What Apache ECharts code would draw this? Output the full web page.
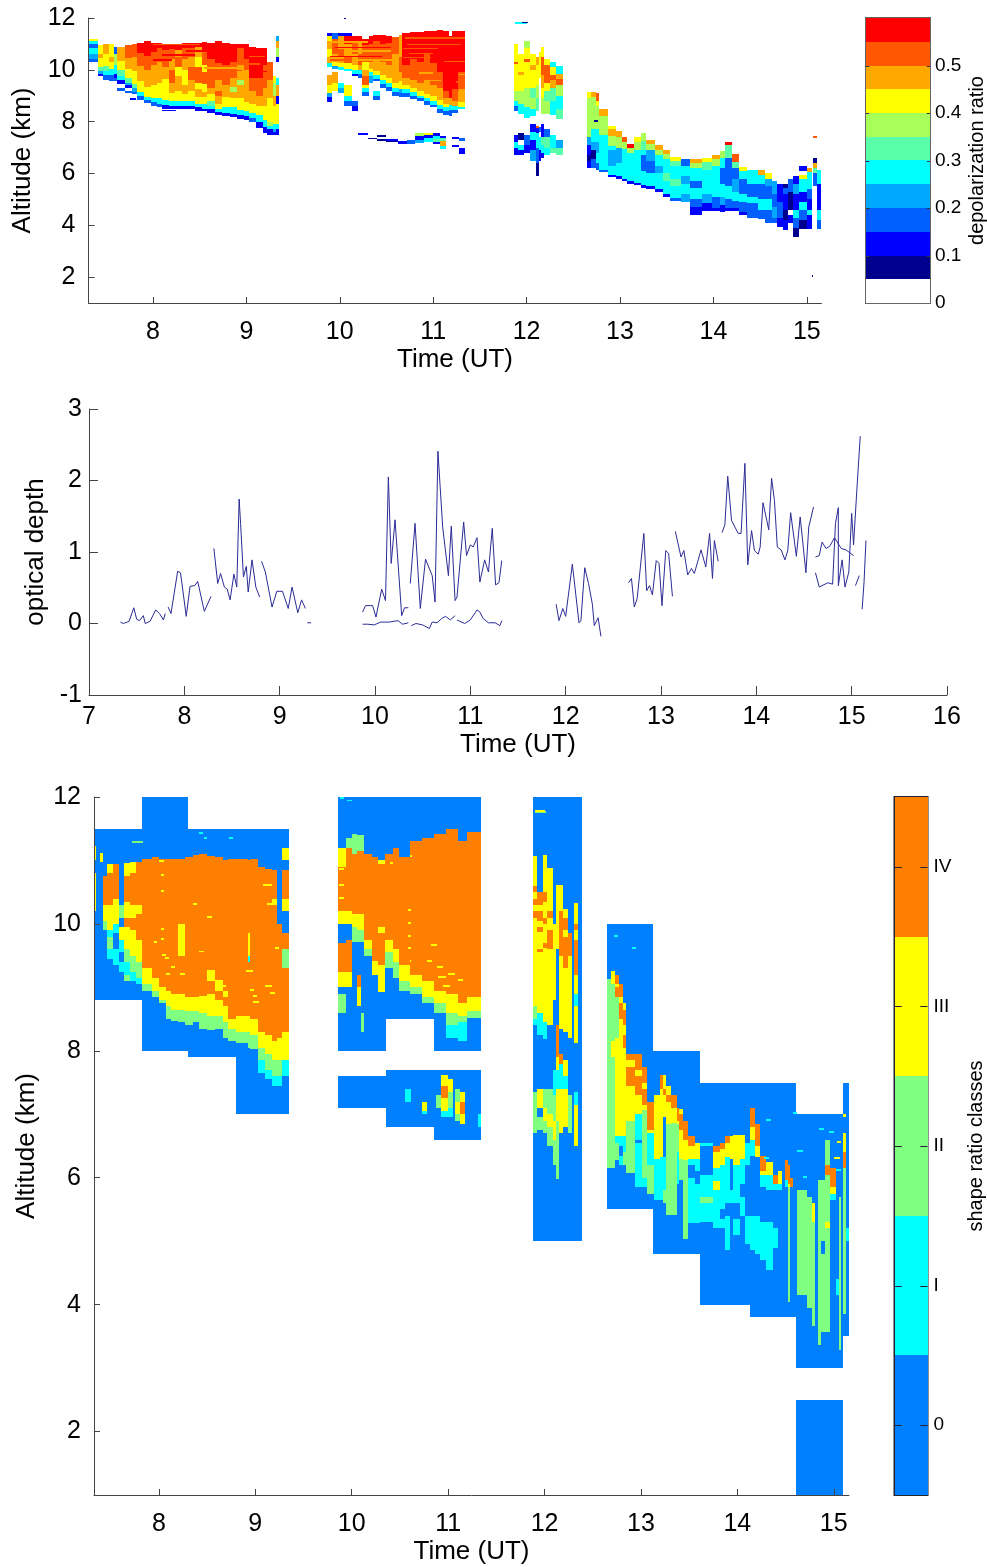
<!DOCTYPE html>
<html>
<head>
<meta charset="utf-8">
<script src="https://cdn.jsdelivr.net/npm/echarts@6/dist/echarts.min.js"></script>
<style>
html,body{margin:0;padding:0;background:#fff}
#main{width:987px;height:1567px}
</style>
</head>
<body>
<div id="main"></div>
<script>
// time ticks
var hourTicks = [8, 9, 10, 11, 12, 13, 14, 15];
var altTicks = [2, 4, 6, 8, 10, 12];

// colour classes of the two colour bars
var depolColors = ['#ffffff', '#00008f', '#0000ff', '#0060ff', '#00a8ff', '#00ffff', '#58ffa8', '#a8ff58', '#ffff00', '#ffa800', '#ff5800', '#ff0000'];
var depolTicks = [0, 0.1, 0.2, 0.3, 0.4, 0.5];
var shapeColors = ['#0080ff', '#00ffff', '#80ff80', '#ffff00', '#ff8000'];
var shapeNames = ['0', 'I', 'II', 'III', 'IV'];
var shapeTicks = [0.5, 1.5, 2.5, 3.5, 4.5];

// profile rows: [start time, top altitude, class, altitude down to, class, altitude down to, ...]
// a row lasts until the next row starts
var depolSeg1 = [
  [7.31, 11.2, 8,11.1, 5,11.0, 3,10.85, 5,10.6, 4,10.4, 3,10.3],
  [7.41, 10.95, 8,10.6, 9,10.45, 8,10.1, 6,9.95, 4,9.85, 2,9.75],
  [7.47, 11.0, 9,10.6, 8,10.15, 6,9.95, 5,9.8, 3,9.6],
  [7.53, 11.0, 8,10.5, 9,10.3, 8,10.05, 5,9.8, 3,9.55],
  [7.58, 10.9, 3,10.6, 7,10.2, 5,9.85, 2,9.7, 3,9.55],
  [7.62, 10.9, 9,10.35, 8,10.0, 6,9.75, 5,9.6, 2,9.45, 0,9.3, 3,9.2],
  [7.7, 10.95, 10,10.45, 9,10.05, 8,9.7, 6,9.5, 4,9.4, 2,9.3, 0,9.2, 3,9.1],
  [7.78, 11.0, 10,10.5, 9,9.95, 8,9.45, 6,9.3, 4,9.15, 3,9.05],
  [7.83, 11.05, 11,10.65, 10,10.15, 9,9.55, 8,9.15, 5,9.0, 3,8.85],
  [7.9, 11.1, 11,10.55, 10,10.0, 9,9.35, 8,8.95, 5,8.85, 3,8.72],
  [7.98, 11.05, 11,10.7, 10,10.2, 9,9.4, 8,8.9, 5,8.75, 3,8.6],
  [8.04, 11.05, 11,10.85, 10,10.3, 9,9.5, 8,8.9, 5,8.7, 3,8.55],
  [8.1, 11.0, 11,10.75, 10,10.1, 9,9.65, 8,8.85, 5,8.65, 2,8.5],
  [8.17, 11.0, 11,10.8, 10,10.4, 9,10.0, 10,9.5, 9,9.1, 8,8.8, 5,8.6, 2,8.48],
  [8.24, 11.0, 11,10.75, 9,10.5, 10,10.1, 8,9.75, 9,9.2, 8,8.8, 5,8.6, 2,8.47],
  [8.31, 11.02, 11,10.85, 10,10.4, 9,10.0, 8,9.4, 9,9.05, 8,8.78, 5,8.6, 2,8.5],
  [8.38, 11.05, 11,10.85, 10,10.5, 9,10.1, 10,9.6, 9,9.2, 8,8.8, 5,8.62, 2,8.48],
  [8.45, 11.05, 11,10.9, 9,10.5, 8,10.1, 10,9.5, 8,9.25, 9,8.95, 8,8.7, 5,8.55, 2,8.42],
  [8.52, 11.08, 11,10.7, 10,10.2, 8,9.9, 10,9.45, 8,9.15, 9,8.95, 8,8.68, 5,8.5, 2,8.4],
  [8.58, 11.05, 11,10.4, 10,9.9, 10,9.3, 9,9.05, 8,8.8, 6,8.6, 5,8.5, 2,8.35],
  [8.66, 11.1, 11,10.25, 10,9.6, 9,9.2, 10,9.0, 9,8.7, 8,8.5, 5,8.38, 2,8.25],
  [8.74, 11.05, 11,10.2, 10,9.4, 9,8.95, 8,8.55, 5,8.35, 2,8.2],
  [8.82, 11.0, 11,10.3, 10,9.7, 9,9.35, 7,9.15, 9,8.9, 8,8.55, 5,8.3, 2,8.18],
  [8.9, 11.0, 11,10.85, 10,10.2, 9,9.6, 7,9.4, 9,8.9, 8,8.45, 5,8.27, 2,8.12],
  [8.97, 11.0, 11,10.4, 10,10.0, 9,9.4, 9,8.75, 8,8.4, 5,8.2, 2,8.05],
  [9.03, 10.9, 11,9.7, 10,9.2, 9,8.7, 8,8.35, 5,8.15, 3,8.0],
  [9.1, 10.85, 11,9.7, 10,9.0, 9,8.6, 8,8.25, 5,8.0, 2,7.75],
  [9.18, 10.85, 11,10.2, 10,9.3, 9,8.6, 8,8.05, 5,7.8, 2,7.55],
  [9.22, 10.3, 10,9.6, 9,8.9, 8,8.0, 7,7.85, 5,7.7, 2,7.5],
  [9.28, 9.75, 8,9.5, 7,9.0, 9,8.6, 8,7.9, 5,7.7, 4,7.6, 2,7.47],
  [9.32, 11.3, 4,11.1, 9,10.85, 7,10.5, 2,10.3, 0,9.7, 5,9.4, 9,9.0, 2,8.7, 8,7.9, 5,7.7, 2,7.47],
  [9.35]
];
var depolSeg2 = [
  [9.86, 11.42, 2,11.3, 8,11.1, 9,10.8, 8,10.5, 9,10.25, 5,10.1, 0,9.8, 9,9.4, 8,9.1, 4,8.95, 2,8.75],
  [9.92, 11.42, 3,11.2, 10,10.6, 9,10.3, 8,10.15, 4,10.05, 0,9.9, 9,9.5, 8,9.2, 0,8.9],
  [9.98, 11.42, 2,11.32, 9,10.8, 10,10.5, 9,10.25, 8,10.1, 5,10.0, 0,9.5, 5,9.3, 4,9.1],
  [10.05, 11.42, 2,11.32, 11,11.0, 9,10.5, 10,10.25, 8,10.05, 5,9.95, 0,9.4, 8,9.0, 5,8.8, 3,8.6],
  [10.13, 11.3, 11,11.1, 10,10.6, 9,10.2, 8,10.0, 5,9.85, 2,9.75, 0,8.8, 3,8.6, 2,8.4],
  [10.2, 11.3, 11,11.05, 9,10.6, 10,10.2, 9,10.0, 5,9.85, 3,9.7],
  [10.24, 11.2, 11,10.95, 10,10.3, 8,10.0, 9,9.75, 10,9.4, 8,9.3, 5,9.15, 3,9.0],
  [10.31, 11.3, 11,11.0, 10,10.3, 9,10.05, 8,9.9, 5,9.75, 4,9.5, 0,9.3],
  [10.36, 11.35, 11,11.1, 10,10.4, 9,9.95, 8,9.8, 5,9.65, 3,9.55, 0,9.2, 5,9.0, 3,8.85],
  [10.43, 11.35, 11,11.0, 10,10.3, 9,9.8, 8,9.6, 5,9.45, 3,9.3],
  [10.5, 11.3, 11,11.05, 10,10.2, 9,9.7, 8,9.5, 5,9.35, 3,9.2],
  [10.56, 11.25, 10,10.6, 9,10.0, 9,9.5, 8,9.3, 5,9.15, 3,9.0],
  [10.63, 11.35, 9,10.5, 10,9.9, 9,9.55, 8,9.25, 4,9.1, 3,8.95],
  [10.67, 11.42, 11,10.2, 10,9.7, 9,9.4, 8,9.25, 5,9.1, 3,8.95],
  [10.75, 11.45, 11,10.4, 10,9.6, 9,9.3, 8,9.15, 5,8.98, 3,8.88],
  [10.83, 11.45, 11,10.3, 10,9.5, 9,9.2, 8,9.0, 5,8.9, 3,8.8],
  [10.9, 11.48, 11,10.6, 10,9.6, 9,9.05, 8,8.9, 5,8.78, 3,8.65],
  [10.97, 11.5, 11,10.25, 10,9.4, 9,9.0, 8,8.8, 5,8.65, 3,8.55],
  [11.04, 11.52, 11,9.9, 10,9.3, 9,8.85, 8,8.65, 5,8.5, 3,8.35],
  [11.1, 11.5, 11,9.2, 10,8.9, 9,8.7, 8,8.55, 5,8.4, 3,8.25],
  [11.17, 11.3, 11,8.9, 9,8.65, 5,8.45, 3,8.2],
  [11.2, 11.48, 11,9.25, 10,8.8, 9,8.6, 5,8.45, 3,8.35],
  [11.27, 11.48, 11,9.9, 10,9.2, 9,8.75, 8,8.55, 5,8.47],
  [11.34]
];
var depolSeg2Low = [
  [10.2, 7.55, 2,7.5],
  [10.3, 7.38, 1,7.32],
  [10.4, 7.5, 1,7.42, 0,7.32, 1,7.26],
  [10.5, 7.33, 2,7.25, 1,7.2],
  [10.62, 7.24, 2,7.14],
  [10.72, 7.28, 3,7.14],
  [10.8, 7.55, 7,7.45, 2,7.28, 4,7.18],
  [10.9, 7.55, 8,7.48, 2,7.35, 5,7.22],
  [11.0, 7.55, 2,7.45, 5,7.32, 6,7.2, 2,7.12],
  [11.07, 7.45, 2,7.38, 6,7.25, 9,7.05, 5,6.95],
  [11.14],
  [11.2, 7.4, 2,7.33, 0,7.1, 2,7.03],
  [11.28, 7.35, 3,7.25, 0,7.0, 2,6.75],
  [11.34]
];
var depolSeg3 = [
  [11.87, 11.0, 8,10.3, 10,10.24, 8,9.2, 7,8.8, 5,8.6, 3,8.42, 0,7.5, 2,7.2, 5,7.0, 2,6.7],
  [11.91, 10.6, 8,9.9, 9,9.8, 8,9.2, 7,8.7, 5,8.3, 0,7.55, 1,7.3, 0,7.1, 5,6.9, 2,6.7],
  [11.97, 11.12, 7,10.85, 8,10.4, 10,10.32, 8,9.3, 7,8.55, 5,8.15, 0,7.5, 3,7.1, 2,6.8],
  [12.04, 10.6, 8,10.2, 9,10.0, 8,9.3, 6,8.9, 7,8.5, 5,8.2, 0,7.9, 2,7.6, 5,7.3, 2,6.9, 4,6.5],
  [12.1, 10.5, 9,10.2, 8,9.4, 7,8.9, 6,8.4, 0,7.85, 10,7.75, 2,7.55, 5,7.0, 3,6.4, 1,5.9],
  [12.13, 10.7, 8,9.7, 0,8.35, 0,7.8, 3,7.6, 0,7.4, 5,6.9, 2,6.5],
  [12.15, 10.9, 8,10.5, 10,9.8, 9,9.3, 8,8.9, 7,8.3, 0,7.9, 2,7.4, 6,7.1, 5,6.8, 2,6.6],
  [12.19, 10.4, 8,10.2, 10,9.5, 8,9.2, 6,8.8, 7,8.3, 0,7.7, 3,7.4, 6,7.0, 5,6.7],
  [12.25, 10.3, 5,10.1, 8,9.8, 10,9.6, 9,9.3, 6,8.8, 5,8.25, 0,7.5, 5,7.0, 6,6.8],
  [12.32, 10.15, 5,9.85, 9,9.65, 10,9.4, 7,9.0, 5,8.5, 6,8.1, 0,7.3, 4,7.0, 6,6.7],
  [12.39]
];
var depolSeg4 = [
  [12.65, 9.16, 8,8.9, 7,7.4, 4,7.1, 2,6.7, 1,6.5, 2,6.2],
  [12.69, 9.16, 9,8.95, 7,7.7, 5,7.2, 4,6.9, 1,6.55, 3,6.2],
  [12.74, 9.1, 10,8.8, 8,8.6, 7,7.7, 5,7.2, 4,6.8, 5,6.4, 3,6.12],
  [12.78, 8.5, 9,8.2, 7,7.5, 5,7.1, 5,6.15, 3,6.05],
  [12.87, 7.85, 8,7.7, 9,7.45, 7,7.05, 5,6.9, 4,6.3, 5,5.95, 2,5.85],
  [12.96, 7.65, 9,7.4, 7,7.0, 4,6.4, 5,5.9, 2,5.8],
  [13.02, 7.4, 10,7.2, 7,6.95, 5,6.4, 5,5.8, 2,5.7],
  [13.08, 7.15, 11,7.0, 7,6.8, 5,6.4, 5,5.7, 2,5.6],
  [13.15, 7.4, 8,7.2, 7,6.9, 5,6.5, 5,5.65, 2,5.55],
  [13.22, 7.55, 7,7.25, 6,6.9, 5,6.7, 3,6.1, 5,5.55, 2,5.45],
  [13.28, 7.3, 9,7.15, 7,6.9, 4,6.5, 3,6.0, 5,5.5, 2,5.4],
  [13.37, 7.1, 9,6.9, 7,6.7, 5,6.3, 4,6.0, 5,5.4, 2,5.3],
  [13.46, 6.9, 9,6.75, 7,6.55, 5,6.0, 6,5.7, 5,5.2, 2,5.1],
  [13.54, 6.65, 8,6.5, 6,6.3, 5,5.8, 6,5.5, 5,5.05, 3,4.95],
  [13.65, 6.55, 3,6.3, 5,5.9, 4,5.6, 5,5.2, 4,4.9],
  [13.75, 6.55, 9,6.4, 7,6.2, 5,5.7, 3,5.45, 5,5.0, 3,4.7, 2,4.4],
  [13.88, 6.6, 8,6.45, 6,6.15, 5,5.6, 5,5.2, 4,4.85, 2,4.55],
  [13.98, 6.7, 9,6.55, 7,6.3, 5,5.9, 5,5.1, 3,4.65, 2,4.55],
  [14.07, 6.85, 7,6.6, 5,6.2, 3,5.6, 5,5.1, 4,4.8, 2,4.5],
  [14.12, 7.2, 11,7.1, 6,6.6, 3,5.5, 5,5.0, 3,4.65, 2,4.55],
  [14.2, 6.75, 10,6.45, 6,6.2, 3,5.8, 4,5.3, 5,4.95, 3,4.65, 2,4.55],
  [14.27, 6.25, 8,6.1, 5,5.8, 3,5.2, 5,4.9, 3,4.5, 2,4.4],
  [14.36, 6.15, 5,5.6, 3,5.1, 5,4.85, 3,4.3],
  [14.48, 6.15, 9,5.95, 5,5.6, 3,5.0, 5,4.6, 3,4.25],
  [14.55, 6.0, 8,5.8, 4,5.5, 3,5.0, 5,4.6, 3,4.1],
  [14.63, 5.7, 4,5.2, 3,4.7, 4,4.3, 3,4.1],
  [14.68, 5.6, 2,4.9, 3,4.3, 2,3.95],
  [14.74, 5.6, 1,5.45, 3,5.2, 2,4.6, 1,4.2, 2,3.8],
  [14.8, 5.8, 3,5.3, 1,4.6, 0,4.4, 2,4.1],
  [14.85, 5.9, 2,5.6, 4,5.2, 2,4.6, 5,4.3, 3,3.9, 1,3.55],
  [14.92, 6.3, 2,6.1, 0,5.95, 8,5.8, 5,5.3, 2,4.9, 5,4.6, 3,4.2, 1,3.85],
  [15.0, 6.2, 9,6.05, 5,5.4, 3,5.0, 2,4.6, 5,4.4, 2,3.85],
  [15.05, 2.1, 1,2.0],
  [15.07, 7.45, 10,7.35, 0,6.6, 1,6.4, 9,6.2, 6,6.0, 3,5.5, 0,4.0],
  [15.11, 6.15, 5,5.6, 2,4.6, 5,4.2, 3,3.85],
  [15.15]
];
// short horizontal streaks: [from, to, altitude, class]
var depolStreaks = [
  [10.7,11.34,11.2,10],[10.72,11.3,10.95,10],[10.68,11.05,10.8,10],[10.74,11.0,10.6,10],[10.68,10.98,10.45,10],
  [11.12,11.34,10.3,10],[10.75,10.95,10.2,10],[10.8,11.0,10.0,10],[11.28,11.34,9.8,9],[10.85,11.0,9.85,9],
  [10.9,11.08,9.55,9],[11.24,11.34,9.5,10],[10.95,11.1,9.25,9],[11.28,11.34,9.2,9],
  [9.9,10.3,11.05,9],[9.95,10.55,10.85,11],[10.1,10.55,10.7,9],[9.9,10.45,10.5,11],[10.2,10.6,10.35,9],[9.9,10.05,10.35,10],
  [8.0,8.5,10.95,10],[8.35,8.7,10.7,11],[8.1,8.45,10.55,11],[8.55,8.9,10.05,9],[8.0,8.2,10.35,11],[8.7,8.95,9.95,10],
  [9.03,9.2,10.5,10],[9.0,9.15,10.2,10],[9.1,9.22,9.9,11],
  [8.1,8.25,8.4,2],[7.75,7.82,8.85,2],[10.05,10.07,11.95,1],[11.88,12.0,11.78,5],[11.95,12.02,11.8,1],[12.72,12.76,8.0,1]
];

// blocks of the shape ratio panel: [from, to, top, bottom]
var shapeBlocks = [
  [7.315, 7.82, 11.5, 8.8], [7.82, 8.3, 12, 8], [8.3, 8.8, 11.5, 7.9], [8.8, 9.35, 11.5, 7],
  [9.86, 10.36, 12, 8], [10.36, 10.85, 12, 8.5], [10.85, 11.34, 12, 8],
  [9.86, 10.36, 7.6, 7.1], [10.36, 10.85, 7.7, 6.8], [10.85, 11.34, 7.7, 6.6],
  [11.884, 12.39, 12, 5],
  [12.65, 13.13, 10, 5.5], [13.13, 13.61, 8, 4.8], [13.61, 14.13, 7.5, 4], [14.13, 14.61, 7.5, 3.8],
  [14.61, 15.1, 7, 3], [15.1, 15.16, 7.5, 3.5], [14.61, 15.1, 2.5, 1]
];
var shapeSeg1 = [
  [7.315, 11.22, 3,11.0, 0,10.8, 3,10.2],
  [7.35],
  [7.385, 11.12, 3,10.98],
  [7.42, 10.75, 4,10.3, 3,10.05, 2,9.9],
  [7.46, 10.94, 3,10.8, 4,10.3, 3,9.9, 1,9.8, 2,9.6, 1,9.45],
  [7.52, 10.94, 4,10.4, 3,10.0, 1,9.85, 0,9.6, 1,9.35],
  [7.585, 10.6, 0,10.3, 2,10.1, 0,9.95, 3,9.75, 1,9.55, 0,9.4, 1,9.25],
  [7.635, 10.96, 3,10.75, 4,10.35, 3,10.1, 4,9.95, 3,9.6, 2,9.4, 1,9.2, 2,9.1],
  [7.7, 10.97, 3,10.8, 4,10.3, 3,10.1, 4,9.9, 3,9.5, 2,9.25, 1,9.1],
  [7.76, 10.98, 4,10.3, 3,10.15, 4,9.75, 3,9.4, 2,9.15, 1,9.05],
  [7.83, 11.03, 4,9.3, 3,9.05, 2,8.95],
  [7.93, 11.05, 4,9.15, 3,8.95, 2,8.85],
  [8.0, 11.02, 4,9.0, 3,8.8, 2,8.75],
  [8.07, 11.02, 4,8.95, 3,8.7, 2,8.5],
  [8.13, 11.03, 4,8.9, 3,8.65, 2,8.47],
  [8.2, 11.03, 4,10.0, 3,9.5, 4,8.9, 3,8.65, 2,8.45],
  [8.27, 11.05, 4,8.85, 3,8.63, 2,8.4],
  [8.35, 11.08, 4,8.85, 3,8.62, 2,8.45],
  [8.42, 11.1, 4,8.87, 3,8.6, 2,8.35],
  [8.5, 11.07, 4,9.28, 3,9.1, 4,8.9, 3,8.55, 2,8.33],
  [8.58, 11.05, 4,9.12, 3,8.95, 4,8.8, 3,8.55, 2,8.35],
  [8.66, 11.0, 4,8.95, 3,8.85, 4,8.7, 3,8.45, 2,8.2],
  [8.72, 11.02, 4,8.5, 3,8.35, 2,8.15],
  [8.8, 11.03, 4,8.55, 3,8.3, 2,8.12],
  [8.92, 11.0, 4,9.85, 3,9.5, 1,9.4, 4,8.55, 3,8.3, 2,8.05],
  [8.95, 11.02, 4,8.5, 3,8.25, 2,8.03],
  [9.03, 10.9, 4,8.3, 3,8.05, 2,7.85, 1,7.65],
  [9.1, 10.86, 4,8.25, 3,7.95, 2,7.7, 1,7.55],
  [9.17, 10.85, 4,10.4, 3,10.3, 4,8.15, 3,7.85, 2,7.6, 1,7.45],
  [9.22, 10.7, 0,10.0, 4,8.2, 3,7.85, 2,7.6, 1,7.45],
  [9.28, 11.2, 3,11.0, 0,10.85, 4,10.4, 3,10.2, 0,9.85, 4,9.6, 2,9.3, 4,8.3, 3,7.85, 1,7.6],
  [9.35]
];
var shapeSeg2 = [
  [9.86, 11.2, 3,10.9, 4,10.2, 3,10.0, 0,9.7, 4,9.25, 3,9.0, 0,8.9, 2,8.6],
  [9.94, 11.35, 2,11.2, 4,10.2, 3,10.0, 0,9.75, 4,9.25, 3,9.0],
  [10.0, 11.42, 2,11.1, 4,10.15, 3,9.95, 2,9.72],
  [10.06, 11.4, 2,11.15, 4,10.15, 3,9.9, 2,9.72, 0,9.2, 4,9.0, 3,8.7],
  [10.1, 11.4, 2,11.15, 4,10.15, 3,9.9, 2,9.72, 0,8.6, 2,8.3],
  [10.13, 11.1, 4,9.75, 3,9.6, 2,9.5],
  [10.21, 11.05, 4,9.42, 3,9.2],
  [10.27, 11.0, 3,10.95, 4,9.95, 3,9.85, 4,9.35, 3,8.92],
  [10.35, 11.1, 4,9.75, 3,9.55, 2,9.3],
  [10.43, 11.2, 4,9.6, 3,9.4, 2,9.15],
  [10.49, 11.05, 4,9.35, 3,9.1, 2,8.95],
  [10.6, 11.3, 4,9.2, 3,9.0, 2,8.9],
  [10.73, 11.35, 4,9.1, 3,8.85, 2,8.75],
  [10.85, 11.42, 4,8.95, 3,8.75, 2,8.6],
  [10.98, 11.5, 4,8.9, 3,8.6, 2,8.4, 1,8.2],
  [11.1, 11.3, 4,8.75, 3,8.55, 2,8.45, 1,8.15],
  [11.2, 11.45, 4,8.85, 3,8.62, 2,8.52],
  [11.34]
];
var shapeSeg2Low = [
  [10.55, 7.4, 1,7.2],
  [10.62],
  [10.73, 7.2, 3,7.05, 1,7.0],
  [10.78],
  [10.87, 7.3, 2,7.1],
  [10.93, 7.62, 3,7.45, 4,7.25, 3,7.05, 1,6.95],
  [11.0, 7.55, 3,7.35, 2,7.1, 1,6.95],
  [11.05],
  [11.07, 7.4, 2,7.2, 3,7.0, 2,6.9],
  [11.12, 7.35, 3,7.2, 4,7.0, 3,6.85],
  [11.18],
  [11.31, 7.0, 1,6.8],
  [11.34]
];
var shapeSeg3 = [
  [11.885, 11.07, 3,10.6, 4,10.5, 3,10.4, 4,10.3, 3,10.2, 4,10.1, 3,8.7, 2,8.5, 1,8.4, 0,7.35, 2,6.7],
  [11.92, 10.5, 4,10.3, 3,10.2, 4,10.05, 3,9.95, 4,9.88, 3,9.6, 4,9.55, 3,8.6, 1,8.25, 0,7.4, 3,7.1, 0,6.95, 2,6.75],
  [11.985, 11.08, 3,10.5, 4,10.35, 3,10.1, 4,10.0, 3,9.7, 4,9.62, 3,8.45, 1,8.18, 0,7.4, 2,7.1, 3,6.9, 2,6.7],
  [12.03, 10.88, 3,10.2, 4,10.1, 3,9.9, 4,9.6, 3,8.4, 0,7.4, 2,7.0, 3,6.8, 2,6.5],
  [12.09, 10.0, 3,8.8, 0,7.7, 1,7.3, 2,6.9, 3,6.6, 2,6.2],
  [12.12, 10.62, 3,9.6, 0,8.4, 4,7.9, 3,7.7, 1,7.4, 3,6.9, 2,6.5, 2,5.98],
  [12.155, 10.62, 3,10.2, 4,9.5, 3,8.35, 0,7.95, 4,7.8, 1,7.4, 3,6.7, 0,6.4],
  [12.19, 10.23, 3,10.1, 4,9.9, 3,9.8, 4,9.3, 3,8.3, 0,7.85, 3,7.6, 1,7.4, 3,6.8, 0,6.5],
  [12.24, 9.86, 4,9.5, 3,8.2, 0,7.3, 2,6.7],
  [12.28],
  [12.31, 10.33, 3,10.0, 4,9.9, 3,9.75, 4,9.2, 3,8.9, 1,8.7, 3,8.13, 0,7.35, 1,7.15, 3,6.5],
  [12.35]
];
var shapeSeg4 = [
  [12.65, 9.13, 2,6.15],
  [12.69, 9.26, 3,9.05, 2,8.15, 3,7.9, 2,6.15],
  [12.73, 9.2, 4,9.05, 3,9.0, 4,8.85, 2,8.2, 3,6.65, 1,6.55, 2,6.28],
  [12.77, 9.05, 4,8.85, 3,8.75, 4,8.5, 3,6.65, 1,6.5, 0,6.35, 1,6.2],
  [12.81, 8.75, 3,8.65, 4,8.4, 3,8.25, 4,8.05, 3,6.65, 1,6.4, 2,6.2],
  [12.85, 7.95, 4,7.85, 3,7.75, 4,7.45, 3,6.9, 2,6.07],
  [12.94, 7.95, 4,7.7, 3,7.6, 4,7.3, 3,7.0, 1,6.6, 0,6.55, 1,5.86],
  [13.01, 7.75, 4,7.5, 3,7.4, 4,7.15, 3,7.07, 2,6.0, 1,5.86],
  [13.06, 7.2, 4,6.76, 3,6.7, 1,6.2, 2,5.75],
  [13.14, 7.3, 3,6.3, 1,5.65],
  [13.2, 7.62, 4,7.4, 3,6.33, 1,5.65],
  [13.225, 7.62, 3,7.4, 4,7.3, 3,6.95, 0,6.33, 1,5.8, 2,5.6],
  [13.26, 7.45, 3,7.3, 4,7.2, 3,6.85, 2,5.41],
  [13.31, 7.3, 4,7.1, 3,6.86, 2,5.41],
  [13.37, 7.1, 4,6.9, 3,6.85, 2,6.4, 1,5.9, 0,5.4],
  [13.39, 7.08, 3,7.0, 4,6.75, 3,6.3, 2,5.96, 0,5.3],
  [13.44, 6.9, 4,6.6, 3,6.28, 2,5.04],
  [13.49, 6.65, 4,6.5, 3,6.3, 1,6.2, 0,6.0, 1,5.28],
  [13.56, 6.55, 3,6.3, 1,6.1, 0,5.9, 1,5.28],
  [13.61, 6.55, 1,6.5, 0,6.04, 1,5.7, 2,5.6, 1,5.3],
  [13.75, 6.5, 4,6.4, 3,6.15, 1,5.95, 3,5.8, 1,5.2],
  [13.82, 6.55, 4,6.45, 3,6.2, 1,5.5, 0,5.35, 1,5.2],
  [13.87, 6.65, 4,6.55, 3,6.33, 1,5.6, 0,5.4, 1,4.86],
  [13.92, 6.65, 3,6.3, 0,5.8, 1,5.6, 0,5.3],
  [13.96, 6.67, 3,6.2, 1,5.6, 0,5.35, 1,5.1],
  [14.03, 6.67, 3,6.3, 1,5.9, 0,5.7, 1,5.4],
  [14.08, 6.55, 1,6.2, 0,5.4, 1,4.96],
  [14.13, 7.1, 4,6.8, 3,6.6, 1,6.35, 0,5.4, 1,4.86],
  [14.18, 6.85, 4,6.5, 3,6.33, 0,5.4, 1,4.8],
  [14.235, 6.35, 4,6.1, 3,6.05, 1,5.86, 0,5.3, 1,4.7],
  [14.3, 6.25, 3,6.05, 1,5.8, 0,5.3, 1,4.54],
  [14.37, 6.05, 4,5.9, 1,5.8, 0,5.2, 1,4.9],
  [14.42, 6.1, 3,5.9, 1,5.8],
  [14.46],
  [14.495, 6.28, 4,5.96, 1,5.86],
  [14.53, 6.2, 4,5.9, 3,5.85, 2,4.04],
  [14.55, 6.0, 4,5.85],
  [14.58],
  [14.62, 5.8, 2,4.15],
  [14.72, 5.7, 2,3.95],
  [14.77, 5.6, 3,5.3, 2,3.67],
  [14.81],
  [14.84, 5.96, 2,3.36],
  [14.87, 5.96, 2,5.0, 0,4.8, 2,3.57],
  [14.91, 6.6, 2,6.2, 4,6.05, 2,5.3, 3,5.2, 2,3.57],
  [14.96, 6.15, 4,5.85, 3,5.75, 1,5.65],
  [15.02, 4.4, 1,4.15],
  [15.05, 5.7, 2,3.28],
  [15.07],
  [15.1, 7.0, 3,6.95, 0,6.7, 3,6.4, 4,6.15, 2,3.86],
  [15.13, 6.2, 0,5.2, 1,5.0],
  [15.16]
];
// short horizontal streaks: [from, to, altitude, class]
var shapeStreaks = [
  [7.72,7.84,11.28,2],[8.47,8.5,11.34,1],[8.73,8.77,11.34,1],[8.42,8.46,11.42,1],
  [8.0,8.05,10.97,3],[8.02,8.05,10.75,3],[8.02,8.05,10.5,3],[8.02,8.05,9.9,3],[8.02,8.05,9.75,3],[8.03,8.07,9.5,3],
  [7.95,7.98,9.7,3],[8.06,8.1,9.45,3],[8.07,8.12,9.2,3],[8.13,8.17,9.3,3],[8.22,8.27,9.2,3],[8.35,8.4,10.3,3],
  [8.5,8.55,10.1,3],[8.42,8.47,9.55,3],[8.95,8.99,8.95,3],[8.98,9.02,8.85,3],[8.98,9.04,8.75,3],[9.08,9.17,10.6,3],
  [9.12,9.17,10.3,3],[9.1,9.17,9.0,3],[8.65,8.7,9.0,3],[8.9,8.98,9.25,3],[9.2,9.25,9.6,3],[9.15,9.2,8.9,3],
  [9.87,9.92,10.4,3],[9.87,9.92,10.6,3],[9.87,9.92,10.85,3],[10.4,10.43,10.95,3],[10.58,10.62,10.2,3],[10.58,10.62,10.0,3],
  [10.58,10.62,9.8,3],[10.58,10.62,9.6,3],[10.6,10.62,9.4,3],[10.78,10.83,9.4,3],[10.82,10.88,9.65,3],[10.88,10.95,9.3,3],
  [10.9,10.98,9.15,3],[11.0,11.07,9.2,3],[10.95,11.02,9.0,3],[11.1,11.15,9.1,3],[10.6,10.63,11.05,3],
  [9.95,10.0,11.93,1],[9.88,9.92,11.97,1],
  [11.9,12.02,11.75,2],[11.9,12.0,11.76,3],[12.72,12.76,9.8,1],[12.91,12.95,9.6,1],[14.3,14.35,6.9,1],
  [14.85,14.9,6.75,1],[14.95,15.0,6.7,1],[15.03,15.07,6.55,3],[15.0,15.06,6.3,3],[15.02,15.08,6.1,1],[14.62,14.68,6.4,1],
  [14.28,14.33,6.3,1],[14.58,14.62,7.0,1],[14.68,14.72,6.0,1]
];

// optical depth pieces, [time, value]
var odPieces = [
  [[7.33,.02],[7.36,0],[7.42,.03],[7.47,.22],[7.5,.06],[7.53,.04],[7.57,.11],[7.59,0],[7.64,.03],[7.7,.19],[7.74,.14],[7.78,.05],[7.8,.14]],
  [[7.83,.23],[7.86,.14],[7.93,.73],[7.96,.71],[8.02,.1],[8.06,.52],[8.11,.53],[8.14,.59],[8.21,.17],[8.28,.38]],
  [[8.31,1.05],[8.35,.56],[8.38,.7],[8.42,.51],[8.45,.48],[8.48,.33],[8.52,.69],[8.55,.51],[8.575,1.74],[8.59,1.4],[8.62,.65],[8.65,.8],[8.67,.44],[8.71,.89],[8.75,.51],[8.79,.37]],
  [[8.81,.87],[8.85,.72],[8.92,.23],[8.97,.45],[9.03,.45],[9.09,.21],[9.13,.51],[9.19,.15],[9.23,.33],[9.27,.21]],
  [[9.29,.01],[9.33,.01]],
  [[9.87,.16],[9.9,.25],[9.975,.25],[10.01,.09],[10.07,.48],[10.11,.32],[10.14,2.05],[10.17,.84],[10.21,1.45],[10.28,.11],[10.31,.22],[10.35,.22]],
  [[10.37,.56],[10.42,1.4],[10.475,.21],[10.53,.9],[10.6,.67],[10.63,.3],[10.66,2.41],[10.71,1.35],[10.77,.67],[10.8,1.36],[10.84,.32],[10.86,.37],[10.93,1.42],[10.96,.95],[11,1.1],[11.03,1.07],[11.07,1.2],[11.1,.58],[11.15,.89],[11.19,.72],[11.23,1.33],[11.265,.54],[11.3,.57],[11.33,.88]],
  [[9.87,-.01],[9.925,-.01],[9.99,-.02],[10.06,.02],[10.15,.02],[10.24,.04],[10.29,-.01],[10.35,.01]],
  [[10.38,-.03],[10.43,0],[10.5,-.02],[10.57,-.07],[10.6,.02],[10.65,.01],[10.7,.07],[10.74,.1],[10.79,.05],[10.84,.11]],
  [[10.86,.05],[10.94,0],[11,.05],[11.07,.19],[11.1,.16],[11.135,.07],[11.19,.01],[11.26,.01],[11.31,-.03],[11.33,.04]],
  [[11.9,.27],[11.93,.04],[11.97,.21],[12,.1],[12.07,.83],[12.14,.01],[12.16,.04],[12.2,.78],[12.24,.56],[12.28,.27],[12.3,-.03],[12.34,.08],[12.37,-.18]],
  [[12.66,.57],[12.69,.63],[12.72,.23],[12.75,.35],[12.82,1.26],[12.85,.46],[12.88,.53],[12.91,.4],[12.95,.88],[12.98,.84],[13.01,.25],[13.05,1.02],[13.08,.98],[13.12,.38]],
  [[13.15,1.29],[13.21,.93],[13.24,1.02],[13.28,.68],[13.32,.77],[13.35,.7],[13.42,1.03],[13.47,.79],[13.51,1.26],[13.54,.63],[13.56,1.16],[13.6,.87]],
  [[13.64,1.27],[13.67,1.38],[13.7,2.06],[13.74,1.44],[13.81,1.26],[13.84,1.26],[13.88,2.24],[13.91,.82],[13.95,1.3],[13.98,1.02],[14.02,.97],[14.04,1.07],[14.07,1.69],[14.11,1.44],[14.13,1.31],[14.16,2.03],[14.19,1.72],[14.22,1.07],[14.26,1.03],[14.3,.89],[14.33,1.02],[14.36,1.55],[14.42,.94],[14.46,1.49],[14.52,.71],[14.55,1.35],[14.6,1.63]],
  [[14.62,.93],[14.66,.95],[14.69,1.14],[14.73,1.05],[14.77,1.08],[14.82,1.2],[14.89,1.05],[14.94,1.03],[15.02,.95]],
  [[14.62,.71],[14.66,.51],[14.75,.57],[14.77,.59],[14.8,.55],[14.83,1.4],[14.86,1.62],[14.86,.53],[14.9,.89],[14.93,.51],[14.97,.72],[15,1.54],[15.02,1.1],[15.05,1.77],[15.09,2.62]],
  [[15.04,.53],[15.08,.67]],
  [[15.11,.2],[15.13,.58],[15.15,1.16]]
];

// turn profile rows into cells [t0, t1, top, bottom, class]
function rowsToCells(rows) {
    var cells = [];
    for (var i = 0; i < rows.length - 1; i++) {
        var row = rows[i];
        var top = row[1];
        for (var j = 2; j < row.length; j += 2) {
            cells.push([row[0], rows[i + 1][0], top, row[j + 1], row[j]]);
            top = row[j + 1];
        }
    }
    return cells;
}
function streaksToCells(streaks, thick) {
    return streaks.map(function(s) { return [s[0], s[1], s[2] + thick, s[2], s[3]]; });
}

function cellSeries(cells, colors, idx) {
    return {
        type: 'custom',
        xAxisIndex: idx,
        yAxisIndex: idx,
        silent: true,
        clip: true,
        animation: false,
        encode: { x: [0, 1], y: [2, 3] },
        data: cells,
        renderItem: function(params, api) {
            var a = api.coord([api.value(0), api.value(2)]);
            var b = api.coord([api.value(1), api.value(3)]);
            var x = Math.round(a[0]), y = Math.round(a[1]);
            return {
                type: 'rect',
                shape: { x: x, y: y, width: Math.round(b[0]) - x, height: Math.max(1, Math.round(b[1]) - y) },
                style: { fill: colors[api.value(4)] }
            };
        }
    };
}

// tick marks of a colour bar, on both edges
function barTicks(values, idx, frac, color) {
    return {
        type: 'custom', xAxisIndex: idx, yAxisIndex: idx, silent: true, animation: false, z: 4,
        encode: { y: 0 },
        data: values.map(function(v) { return [v]; }),
        renderItem: function(params, api) {
            var a = api.coord([0, api.value(0)]);
            var b = api.coord([1, api.value(0)]);
            var y = Math.round(a[1]) + 0.5;
            var w = (b[0] - a[0]) * frac;
            var ls = { stroke: color, lineWidth: 1 };
            return {
                type: 'group',
                children: [
                    { type: 'line', shape: { x1: a[0], y1: y, x2: a[0] + w, y2: y }, style: ls },
                    { type: 'line', shape: { x1: b[0] - w, y1: y, x2: b[0], y2: y }, style: ls }
                ]
            };
        }
    };
}

var txt = 'Liberation Sans';
var axisCol = '#444';
var tickSize = 25;
var nameSize = 26;

function timeAxis(idx, min, max, name, gap, ticks) {
    return {
        type: 'value', gridIndex: idx, min: min, max: max, z: 5,
        name: name, nameLocation: 'middle', nameGap: gap,
        nameTextStyle: { color: '#000', fontFamily: txt, fontSize: nameSize },
        splitLine: { show: false },
        axisLine: { onZero: false, lineStyle: { color: axisCol, width: 1 } },
        axisTick: { inside: true, length: 6, lineStyle: { color: axisCol }, customValues: ticks },
        axisLabel: { color: '#000', fontFamily: txt, fontSize: tickSize, margin: 17, customValues: ticks, formatter: '{value}' }
    };
}
function altAxis(idx, name, gap) {
    return {
        type: 'value', gridIndex: idx, min: 1, max: 12, z: 5,
        name: name, nameLocation: 'middle', nameGap: gap,
        nameTextStyle: { color: '#000', fontFamily: txt, fontSize: nameSize },
        splitLine: { show: false },
        axisLine: { onZero: false, lineStyle: { color: axisCol, width: 1 } },
        axisTick: { inside: true, length: 6, lineStyle: { color: axisCol }, customValues: altTicks },
        axisLabel: { color: '#000', fontFamily: txt, fontSize: tickSize, margin: 13, customValues: altTicks, formatter: '{value}' }
    };
}
function barXAxis(idx) {
    return { type: 'value', gridIndex: idx, min: 0, max: 1, show: false };
}

var depolCells = [].concat(rowsToCells(depolSeg1), rowsToCells(depolSeg2), rowsToCells(depolSeg2Low), rowsToCells(depolSeg3), rowsToCells(depolSeg4), streaksToCells(depolStreaks, 0.05));
var shapeCells = [].concat(
    shapeBlocks.map(function(b) { return [b[0], b[1], b[2], b[3], 0]; }),
    rowsToCells(shapeSeg1), rowsToCells(shapeSeg2), rowsToCells(shapeSeg2Low), rowsToCells(shapeSeg3), rowsToCells(shapeSeg4),
    streaksToCells(shapeStreaks, 0.03)
);
var depolBar = depolColors.map(function(c, i) { return [0, 1, (i + 1) * 0.05, i * 0.05, i]; });
var shapeBar = shapeColors.map(function(c, i) { return [0, 1, i + 1, i, i]; });

var odSeries = odPieces.map(function(piece) {
    return {
        type: 'line', xAxisIndex: 2, yAxisIndex: 2, data: piece, showSymbol: false, silent: true,
        animation: false, lineStyle: { color: '#2b2b96', width: 1 }
    };
});

var option = {
    backgroundColor: '#fff',
    animation: false,
    grid: [
        { left: 88.5, top: 18, width: 733, height: 285, outerBoundsMode: 'none' },
        { left: 866, top: 18, width: 64, height: 285, show: true, borderColor: '#666', borderWidth: 2, outerBoundsMode: 'none' },
        { left: 89, top: 409, width: 858, height: 286, outerBoundsMode: 'none' },
        { left: 94, top: 797, width: 755, height: 698, outerBoundsMode: 'none' },
        { left: 894.5, top: 797, width: 33, height: 698, show: true, borderColor: '#223', borderWidth: 2, outerBoundsMode: 'none' }
    ],
    xAxis: [
        timeAxis(0, 7.31, 15.157, 'Time (UT)', 44, hourTicks),
        barXAxis(1),
        {
            type: 'value', gridIndex: 2, min: 7, max: 16, interval: 1, z: 5,
            name: 'Time (UT)', nameLocation: 'middle', nameGap: 37,
            nameTextStyle: { color: '#000', fontFamily: txt, fontSize: nameSize },
            splitLine: { show: false },
            axisLine: { onZero: false, lineStyle: { color: axisCol } },
            axisTick: { inside: true, length: 9, lineStyle: { color: axisCol } },
            axisLabel: { color: '#000', fontFamily: txt, fontSize: tickSize, margin: 10 }
        },
        timeAxis(3, 7.327, 15.158, 'Time (UT)', 44, hourTicks),
        barXAxis(4)
    ],
    yAxis: [
        altAxis(0, 'Altitude (km)', 53),
        {
            type: 'value', gridIndex: 1, min: 0, max: 0.6, position: 'right', z: 5,
            name: 'depolarization ratio', nameLocation: 'middle', nameGap: 37, nameRotate: 90,
            nameTextStyle: { color: '#000', fontFamily: txt, fontSize: 20 },
            splitLine: { show: false },
            axisLine: { show: false },
            axisTick: { show: false },
            axisLabel: { color: '#000', fontFamily: txt, fontSize: 19, margin: 5, customValues: depolTicks, formatter: function(v) { return String(v); } }
        },
        {
            type: 'value', gridIndex: 2, min: -1, max: 3, interval: 1, z: 5,
            name: 'optical depth', nameLocation: 'middle', nameGap: 36,
            nameTextStyle: { color: '#000', fontFamily: txt, fontSize: nameSize },
            splitLine: { show: false },
            axisLine: { onZero: false, lineStyle: { color: axisCol } },
            axisTick: { inside: true, length: 9, lineStyle: { color: axisCol } },
            axisLabel: { color: '#000', fontFamily: txt, fontSize: tickSize, margin: 7 }
        },
        altAxis(3, 'Altitude (km)', 54),
        {
            type: 'value', gridIndex: 4, min: 0, max: 5, position: 'right', z: 5,
            name: 'shape ratio classes', nameLocation: 'middle', nameGap: 39, nameRotate: 90,
            nameTextStyle: { color: '#000', fontFamily: txt, fontSize: 20 },
            splitLine: { show: false },
            axisLine: { show: false },
            axisTick: { show: false },
            axisLabel: {
                color: '#000', fontFamily: txt, fontSize: 19, margin: 6, customValues: shapeTicks,
                formatter: function(v) { return shapeNames[Math.floor(v)]; }
            }
        }
    ],
    series: [
        cellSeries(depolCells, depolColors, 0),
        cellSeries(depolBar, depolColors, 1),
        barTicks(depolTicks.slice(1), 1, 0.05, '#333'),
        cellSeries(shapeCells, shapeColors, 3),
        cellSeries(shapeBar, shapeColors, 4),
        barTicks(shapeTicks, 4, 0.22, '#223')
    ].concat(odSeries)
};

var myChart = echarts.init(document.getElementById('main'), null, { renderer: 'canvas' });
myChart.setOption(option);
</script>
</body>
</html>
